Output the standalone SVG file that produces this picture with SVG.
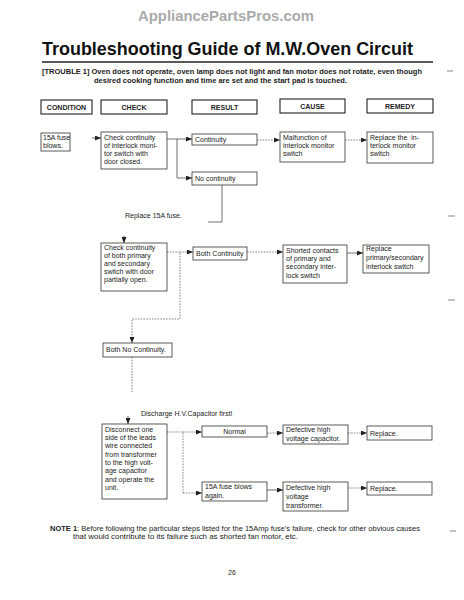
<svg xmlns="http://www.w3.org/2000/svg" width="464" height="600" viewBox="0 0 464 600">
<style>
.t{font-family:"Liberation Sans",Arial,Helvetica,sans-serif;font-size:7px;fill:#222}
.b{font-weight:bold}
.m{text-anchor:middle}
.box{fill:#fff;stroke:#333;stroke-width:0.8}
.hb{fill:#fff;stroke:#222;stroke-width:1.1}
.c{fill:none;stroke:#333;stroke-width:0.7}
.d{stroke-dasharray:1.6 1.2;stroke:#555}
.mk{stroke:#888;stroke-width:1}
</style>
<defs>
<marker id="ah" markerUnits="userSpaceOnUse" markerWidth="6" markerHeight="5" refX="6" refY="2.5" orient="auto">
<path d="M0,0 L6,2.5 L0,5 z" fill="#222"/>
</marker>
</defs>
<rect width="464" height="600" fill="#fff"/>

<text x="226" y="21" class="t b m" style="font-size:14px;fill:#aaa" textLength="176" lengthAdjust="spacingAndGlyphs">AppliancePartsPros.com</text>
<text x="42" y="55" class="t b" style="font-size:18px;fill:#111" textLength="371" lengthAdjust="spacingAndGlyphs">Troubleshooting Guide of M.W.Oven Circuit</text>
<line x1="42" y1="62" x2="433" y2="62" stroke="#222" stroke-width="1.5"/>
<text x="42" y="74" class="t b" textLength="380" lengthAdjust="spacingAndGlyphs">[TROUBLE 1] Oven does not operate, oven lamp does not light and fan motor does not rotate, even though</text>
<text x="94" y="83" class="t b" textLength="253" lengthAdjust="spacingAndGlyphs">desired cooking function and time are set and the start pad is touched.</text>

<g id="hdr-condition"><rect x="41" y="100" width="51" height="14" class="hb"/><text x="66.5" y="110" class="t b m">CONDITION</text></g>
<g id="hdr-check"><rect x="101" y="100" width="66" height="14" class="hb"/><text x="134" y="110" class="t b m">CHECK</text></g>
<g id="hdr-result"><rect x="192" y="100" width="65" height="14" class="hb"/><text x="224.5" y="110" class="t b m">RESULT</text></g>
<g id="hdr-cause"><rect x="280" y="99" width="65" height="14" class="hb"/><text x="312.5" y="109" class="t b m">CAUSE</text></g>
<g id="hdr-remedy"><rect x="367" y="99" width="66" height="14" class="hb"/><text x="400" y="109" class="t b m">REMEDY</text></g>

<g id="connectors">
<path d="M92,138 H101" class="c" marker-end="url(#ah)"/>
<path d="M167,139 H177 V178" class="c"/>
<path d="M177,139 H192" class="c" marker-end="url(#ah)"/>
<path d="M177,178 H192" class="c" marker-end="url(#ah)"/>
<path d="M257,140 H280" class="c d" marker-end="url(#ah)"/>
<path d="M345,140 H367" class="c d" marker-end="url(#ah)"/>
<path d="M222,185 V222 H208" class="c"/>
<path d="M124,236 V243" class="c" marker-end="url(#ah)"/>
<path d="M167,252 H180 V319 H132 V343" class="c d" marker-end="url(#ah)"/>
<path d="M180,252 H193" class="c d" marker-end="url(#ah)"/>
<path d="M247,252 H283" class="c d" marker-end="url(#ah)"/>
<path d="M347,253 H363" class="c" marker-end="url(#ah)"/>
<path d="M132,357 V392" class="c d"/>
<path d="M128,416 V424" class="c" marker-end="url(#ah)"/>
<path d="M167,432 H183 V493" class="c d"/>
<path d="M183,432 H202" class="c d" marker-end="url(#ah)"/>
<path d="M183,493 H202" class="c d" marker-end="url(#ah)"/>
<path d="M267,433 H283" class="c d" marker-end="url(#ah)"/>
<path d="M348,433 H367" class="c d" marker-end="url(#ah)"/>
<path d="M267,490 H283" class="c" marker-end="url(#ah)"/>
<path d="M348,488 H367" class="c d" marker-end="url(#ah)"/>
</g>

<g id="n-fuse"><rect x="41" y="133" width="29" height="18" class="box"/><text x="43" y="140" class="t">15A fuse</text><text x="43" y="148" class="t">blows.</text></g>
<g id="n-check1"><rect x="101" y="132" width="66" height="37" class="box"/>
<text x="104" y="140" class="t">Check continuity</text><text x="104" y="148" class="t">of interlock moni-</text><text x="104" y="156" class="t">tor switch with</text><text x="104" y="164" class="t">door closed.</text></g>
<g id="n-cont"><rect x="192" y="134" width="65" height="11" class="box"/><text x="195" y="142" class="t">Continuity</text></g>
<g id="n-nocont"><rect x="192" y="172" width="65" height="13" class="box"/><text x="195" y="181" class="t">No continuity</text></g>
<g id="n-malf"><rect x="280" y="132" width="65" height="30" class="box"/>
<text x="283" y="140" class="t">Malfunction of</text><text x="283" y="148" class="t">interlock monitor</text><text x="283" y="156" class="t">switch</text></g>
<g id="n-rep1"><rect x="367" y="132" width="66" height="31" class="box"/>
<text x="370" y="140" class="t" xml:space="preserve">Replace the  in-</text><text x="370" y="148" class="t">terlock monitor</text><text x="370" y="156" class="t">switch</text></g>

<text x="125" y="218" class="t">Replace 15A fuse.</text>

<g id="n-check2"><rect x="101" y="243" width="66" height="48" class="box"/>
<text x="104" y="250" class="t">Check continuity</text><text x="104" y="258" class="t">of both primary</text><text x="104" y="266" class="t">and secondary</text><text x="104" y="274" class="t">switch with door</text><text x="104" y="282" class="t">partially open.</text></g>
<g id="n-bothcont"><rect x="193" y="247" width="54" height="13" class="box"/><text x="196" y="256" class="t">Both Continuity</text></g>
<g id="n-shorted"><rect x="283" y="245" width="64" height="38" class="box"/>
<text x="286" y="253" class="t">Shorted contacts</text><text x="286" y="261" class="t">of primary and</text><text x="286" y="269" class="t">secondary inter-</text><text x="286" y="278" class="t">lock switch</text></g>
<g id="n-rep2"><rect x="363" y="245" width="66" height="28" class="box"/>
<text x="366" y="251" class="t">Replace</text><text x="366" y="260" class="t">primary/secondary</text><text x="366" y="269" class="t">interlock switch</text></g>

<g id="n-bothno"><rect x="103" y="343" width="69" height="14" class="box"/><text x="106" y="352" class="t">Both No Continuity.</text></g>

<text x="141" y="416" class="t">Discharge H.V.Capacitor first!</text>

<g id="n-disc"><rect x="102" y="424" width="65" height="75" class="box"/>
<text x="105" y="432" class="t">Disconnect one</text><text x="105" y="440" class="t">side of the leads</text><text x="105" y="448" class="t">wire connected</text><text x="105" y="457" class="t">from transformer</text><text x="105" y="465" class="t">to the high volt-</text><text x="105" y="473" class="t">age capacitor</text><text x="105" y="482" class="t">and operate the</text><text x="105" y="490" class="t">unit.</text></g>
<g id="n-normal"><rect x="202" y="426" width="65" height="11" class="box"/><text x="234.5" y="434" class="t m">Normal</text></g>
<g id="n-fuse2"><rect x="202" y="482" width="65" height="19" class="box"/><text x="205" y="489" class="t">15A fuse blows</text><text x="205" y="498" class="t">again.</text></g>
<g id="n-defcap"><rect x="283" y="425" width="65" height="19" class="box"/><text x="286" y="432" class="t">Defective high</text><text x="286" y="441" class="t">voltage capacitor.</text></g>
<g id="n-rep3"><rect x="367" y="426" width="65" height="14" class="box"/><text x="370" y="436" class="t">Replace.</text></g>
<g id="n-deftr"><rect x="283" y="482" width="65" height="29" class="box"/><text x="286" y="490" class="t">Defective high</text><text x="286" y="499" class="t">voltage</text><text x="286" y="508" class="t">transformer.</text></g>
<g id="n-rep4"><rect x="367" y="482" width="65" height="13" class="box"/><text x="370" y="491" class="t">Replace.</text></g>

<text x="50" y="531" class="t" textLength="370" lengthAdjust="spacingAndGlyphs"><tspan class="b">NOTE 1</tspan>: Before following the particular steps listed for the 15Amp fuse's failure, check for other obvious causes</text>
<text x="73" y="539" class="t" textLength="225" lengthAdjust="spacingAndGlyphs">that would contribute to its failure such as shorted fan motor, etc.</text>
<text x="232" y="575" class="t m">26</text>

<line x1="447" y1="71" x2="453" y2="71" class="mk"/>
<line x1="448" y1="216" x2="455" y2="216" class="mk"/>
<line x1="448" y1="300" x2="455" y2="300" class="mk"/>
<line x1="450" y1="531" x2="456" y2="531" class="mk"/>
</svg>
